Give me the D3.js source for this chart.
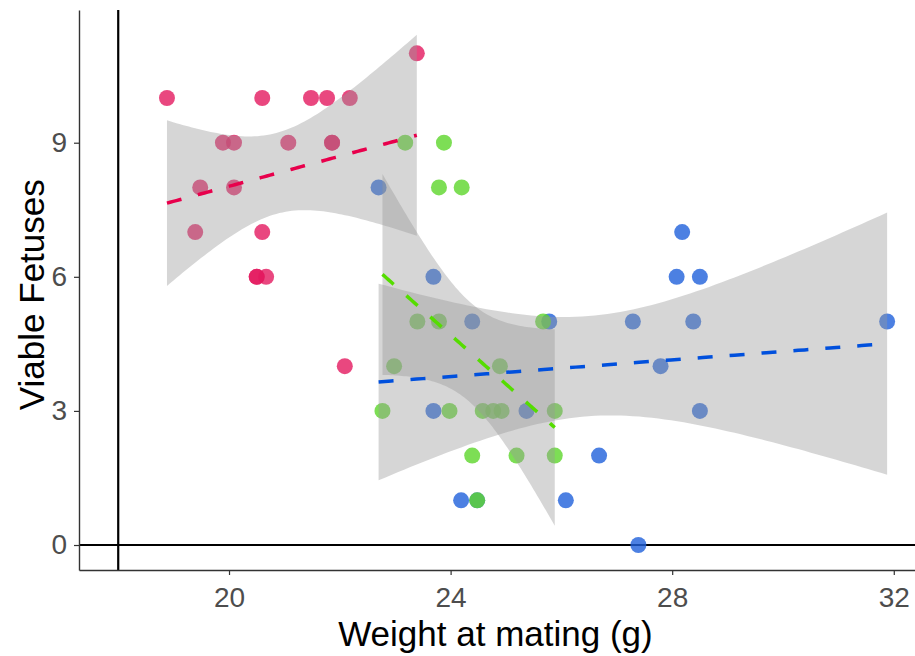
<!DOCTYPE html>
<html>
<head>
<meta charset="utf-8">
<script src="https://cdn.jsdelivr.net/npm/d3@7"></script>
<style>
  body { margin: 0; background: #fff; }
  svg { display: block; }
  text { font-family: "Liberation Sans", Arial, sans-serif; }
</style>
</head>
<body>
<svg id="chart"></svg>
<script>
// weight at mating (g) and viable fetuses, one pair of arrays per group
const redWeight   = [18.88, 19.39, 19.48, 19.89, 20.09, 20.09, 20.60, 20.60, 20.50, 20.50, 20.67, 21.07, 21.48, 21.77, 21.86, 21.86, 22.18, 22.09, 23.39];
const redFetuses  = [10, 7, 8, 9, 9, 8, 10, 7, 6, 6, 6, 9, 10, 10, 9, 9, 10, 4, 11];

const greenWeight  = [23.18, 23.88, 23.79, 24.20, 23.40, 23.79, 25.67, 22.98, 24.89, 22.77, 23.98, 24.58, 24.77, 24.92, 25.88, 24.39, 25.19, 25.88, 24.48];
const greenFetuses = [9, 9, 8, 8, 5, 5, 5, 4, 4, 3, 3, 3, 3, 3, 3, 2, 2, 2, 1];

const blueWeight  = [22.70, 23.69, 24.39, 25.78, 23.69, 25.37, 26.68, 24.19, 26.08, 28.18, 28.08, 28.50, 27.29, 28.38, 31.88, 27.79, 28.50, 27.39, 24.48];
const blueFetuses = [8, 6, 5, 5, 3, 3, 2, 1, 1, 7, 6, 6, 5, 5, 5, 4, 3, 0, 1];

const xTicks = [20, 24, 28, 32];
const yTicks = [0, 3, 6, 9];
const refX = 18;   // vertical reference line
const refY = 0;    // horizontal reference line

const groups = [
    { name: "red",   xs: redWeight,   ys: redFetuses,   point: "#e3195f", line: "#e8004c" },
    { name: "green", xs: greenWeight, ys: greenFetuses, point: "#5cd62a", line: "#55dd00" },
    { name: "blue",  xs: blueWeight,  ys: blueFetuses,  point: "#1f60db", line: "#0050dd" }
];
// drawing order of the points (blue under green)
const pointOrder = ["blue", "green", "red"];

const W = 915, H = 656;
const margin = { top: 10, right: 0, bottom: 86, left: 79 };
const width = W - margin.left - margin.right;
const height = H - margin.top - margin.bottom;

const svg = d3.select("#chart").attr("width", W).attr("height", H);
const g = svg.append("g").attr("transform", `translate(${margin.left},${margin.top})`);

const x = d3.scaleLinear().domain([17.292, 32.383]).range([0, width]);
const y = d3.scaleLinear().domain([-0.559, 11.969]).range([height, 0]);

svg.append("defs").append("clipPath").attr("id", "panel")
    .append("rect").attr("width", width).attr("height", height);

// t quantile (0.975) via Cornish-Fisher expansion
function qt975(df) {
    const z = 1.959964;
    const g1 = (Math.pow(z, 3) + z) / 4;
    const g2 = (5 * Math.pow(z, 5) + 16 * Math.pow(z, 3) + 3 * z) / 96;
    const g3 = (3 * Math.pow(z, 7) + 19 * Math.pow(z, 5) + 17 * Math.pow(z, 3) - 15 * z) / 384;
    const g4 = (79 * Math.pow(z, 9) + 776 * Math.pow(z, 7) + 1482 * Math.pow(z, 5) - 1920 * Math.pow(z, 3) - 945 * z) / 92160;
    return z + g1 / df + g2 / (df * df) + g3 / Math.pow(df, 3) + g4 / Math.pow(df, 4);
}

// linear fit with 95% confidence band, like geom_smooth(method = "lm")
function fitLm(xs, ys) {
    const n = xs.length;
    const mx = d3.mean(xs), my = d3.mean(ys);
    let sxx = 0, sxy = 0;
    xs.forEach((xi, i) => { sxx += (xi - mx) ** 2; sxy += (xi - mx) * (ys[i] - my); });
    const b = sxy / sxx, a = my - b * mx;
    const sse = d3.sum(xs, (xi, i) => (ys[i] - a - b * xi) ** 2);
    const s = Math.sqrt(sse / (n - 2));
    const t = qt975(n - 2);
    const [lo, hi] = d3.extent(xs);
    const out = [];
    for (let k = 0; k <= 80; k++) {
        const xv = lo + (hi - lo) * k / 80;
        const fit = a + b * xv;
        const se = s * Math.sqrt(1 / n + (xv - mx) ** 2 / sxx);
        out.push({ x: xv, fit: fit, lower: fit - t * se, upper: fit + t * se });
    }
    return out;
}

const plot = g.append("g").attr("clip-path", "url(#panel)");

// reference lines
plot.append("line")
    .attr("x1", x(refX)).attr("x2", x(refX))
    .attr("y1", 0).attr("y2", height)
    .attr("stroke", "#000").attr("stroke-width", 2.2);
plot.append("line")
    .attr("x1", 0).attr("x2", width)
    .attr("y1", y(refY)).attr("y2", y(refY))
    .attr("stroke", "#000").attr("stroke-width", 2.2);

// points
pointOrder.forEach(name => {
    const grp = groups.find(d => d.name === name);
    plot.append("g").selectAll("circle")
        .data(grp.xs.map((v, i) => ({ x: v, y: grp.ys[i] })))
        .enter()
        .append("circle")
        .attr("cx", d => x(d.x))
        .attr("cy", d => y(d.y))
        .attr("r", 8)
        .attr("fill", grp.point)
        .attr("fill-opacity", 0.8);
});

// confidence bands and fitted lines
const area = d3.area()
    .x(d => x(d.x))
    .y0(d => y(d.lower))
    .y1(d => y(d.upper));
const line = d3.line()
    .x(d => x(d.x))
    .y(d => y(d.fit));

const fits = groups.map(grp => ({ grp: grp, fit: fitLm(grp.xs, grp.ys) }));

fits.forEach(f => {
    plot.append("path")
        .datum(f.fit)
        .attr("d", area)
        .attr("fill", "#999999")
        .attr("fill-opacity", 0.4);
});
fits.forEach(f => {
    plot.append("path")
        .datum(f.fit)
        .attr("d", line)
        .attr("fill", "none")
        .attr("stroke", f.grp.line)
        .attr("stroke-width", 3.5)
        .attr("stroke-dasharray", "15,17");
});

// axes
const xAxis = g.append("g")
    .attr("transform", `translate(0,${height})`)
    .call(d3.axisBottom(x).tickValues(xTicks).tickSizeInner(5).tickSizeOuter(0).tickPadding(12));
const yAxis = g.append("g")
    .call(d3.axisLeft(y).tickValues(yTicks).tickSizeInner(5).tickSizeOuter(0).tickPadding(7));

[xAxis, yAxis].forEach(ax => {
    ax.select(".domain").attr("stroke", "#333").attr("stroke-width", 1.4);
    ax.selectAll(".tick line").attr("stroke", "#333").attr("stroke-width", 1.2);
    ax.selectAll(".tick text")
        .attr("fill", "#4d4d4d")
        .style("font-size", "28px");
});

// axis titles
svg.append("text")
    .attr("x", margin.left + x(24.81))
    .attr("y", 646)
    .attr("text-anchor", "middle")
    .style("font-size", "35px")
    .attr("fill", "#000")
    .text("Weight at mating (g)");

svg.append("text")
    .attr("transform", `translate(44,${margin.top + y(5.6)}) rotate(-90)`)
    .attr("text-anchor", "middle")
    .style("font-size", "35px")
    .attr("fill", "#000")
    .text("Viable Fetuses");
</script>
</body>
</html>
